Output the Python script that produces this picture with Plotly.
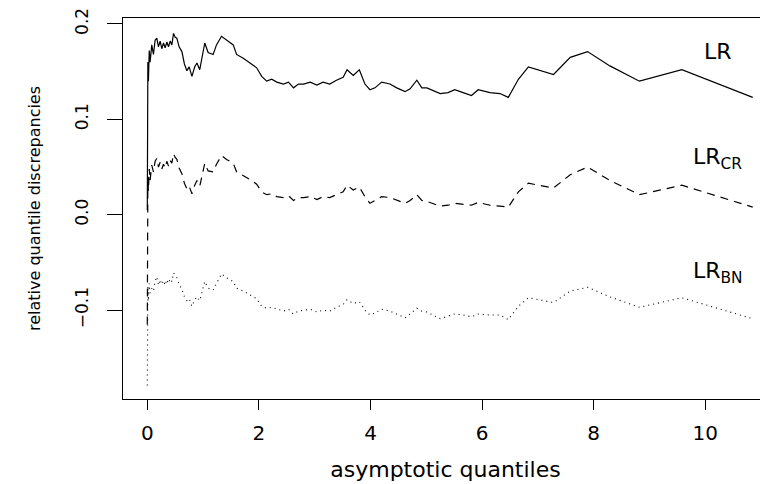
import plotly.graph_objects as go

# asymptotic quantiles (shared x grid)
quantiles = [0.000, 0.005, 0.010, 0.020, 0.035, 0.050, 0.080, 0.110, 0.140, 0.170,
             0.200, 0.230, 0.260, 0.290, 0.320, 0.350, 0.380, 0.410, 0.440, 0.470,
             0.500, 0.530, 0.570, 0.620, 0.665, 0.710, 0.750, 0.800, 0.850, 0.890,
             0.940, 1.030, 1.090, 1.180, 1.240, 1.330, 1.420, 1.540, 1.600, 1.720,
             1.840, 1.960, 2.050, 2.140, 2.230, 2.320, 2.440, 2.530, 2.620, 2.710,
             2.800, 2.920, 3.040, 3.150, 3.270, 3.390, 3.510, 3.580, 3.690, 3.800,
             3.900, 3.990, 4.080, 4.200, 4.350, 4.470, 4.620, 4.710, 4.830, 4.920,
             5.010, 5.250, 5.390, 5.510, 5.660, 5.810, 5.930, 6.140, 6.320, 6.470,
             6.650, 6.830, 7.280, 7.580, 7.890, 8.290, 8.820, 9.580, 10.850]

lr = [0.005, 0.120, 0.160, 0.140, 0.172, 0.160, 0.178, 0.168, 0.183, 0.185,
      0.176, 0.182, 0.174, 0.180, 0.175, 0.181, 0.176, 0.182, 0.178, 0.190,
      0.186, 0.185, 0.176, 0.171, 0.158, 0.151, 0.155, 0.145, 0.155, 0.159,
      0.152, 0.180, 0.170, 0.168, 0.178, 0.187, 0.183, 0.178, 0.168, 0.164,
      0.159, 0.154, 0.145, 0.140, 0.142, 0.139, 0.137, 0.139, 0.133, 0.137,
      0.137, 0.139, 0.136, 0.139, 0.137, 0.141, 0.144, 0.152, 0.146, 0.152,
      0.137, 0.131, 0.133, 0.139, 0.137, 0.133, 0.129, 0.132, 0.141, 0.133,
      0.133, 0.127, 0.128, 0.131, 0.128, 0.125, 0.131, 0.128, 0.127, 0.123,
      0.142, 0.155, 0.147, 0.165, 0.171, 0.156, 0.140, 0.152, 0.123]

lr_cr = [-0.115, -0.020, 0.040, 0.025, 0.048, 0.036, 0.052, 0.045, 0.056, 0.059,
         0.050, 0.055, 0.048, 0.053, 0.049, 0.056, 0.051, 0.057, 0.054, 0.064,
         0.060, 0.058, 0.049, 0.043, 0.033, 0.027, 0.030, 0.022, 0.031, 0.036,
         0.030, 0.054, 0.046, 0.045, 0.053, 0.062, 0.058, 0.054, 0.045, 0.041,
         0.037, 0.032, 0.024, 0.021, 0.022, 0.019, 0.018, 0.020, 0.015, 0.018,
         0.018, 0.019, 0.016, 0.019, 0.018, 0.021, 0.024, 0.031, 0.026, 0.029,
         0.019, 0.012, 0.015, 0.019, 0.018, 0.015, 0.012, 0.015, 0.021, 0.015,
         0.014, 0.009, 0.010, 0.012, 0.011, 0.010, 0.013, 0.010, 0.009, 0.008,
         0.024, 0.033, 0.028, 0.042, 0.050, 0.036, 0.021, 0.031, 0.008]

lr_bn = [-0.179, -0.110, -0.075, -0.090, -0.072, -0.082, -0.077, -0.080, -0.070, -0.065,
         -0.074, -0.068, -0.073, -0.069, -0.074, -0.068, -0.072, -0.067, -0.070, -0.061,
         -0.064, -0.066, -0.073, -0.078, -0.086, -0.090, -0.088, -0.096, -0.089, -0.086,
         -0.090, -0.070, -0.077, -0.079, -0.072, -0.062, -0.066, -0.070, -0.077, -0.080,
         -0.084, -0.088, -0.096, -0.098, -0.097, -0.099, -0.101, -0.099, -0.104, -0.101,
         -0.100, -0.099, -0.102, -0.100, -0.101, -0.097, -0.094, -0.089, -0.093, -0.091,
         -0.100, -0.105, -0.103, -0.099, -0.101, -0.104, -0.108, -0.104, -0.098, -0.101,
         -0.102, -0.109, -0.106, -0.104, -0.105, -0.107, -0.104, -0.105, -0.105, -0.110,
         -0.096, -0.087, -0.092, -0.080, -0.076, -0.086, -0.097, -0.087, -0.109]

x_ticks = [0, 2, 4, 6, 8, 10]
y_ticks = [-0.1, 0.0, 0.1, 0.2]

series_labels = ["LR", "LR<sub>CR</sub>", "LR<sub>BN</sub>"]
label_x = [10.22, 10.22, 10.22]
label_y = [0.171, 0.059, -0.060]

fig = go.Figure()
fig.add_trace(go.Scatter(x=quantiles, y=lr, mode="lines",
                         line=dict(color="black", width=1.2, dash="solid"), name="LR"))
fig.add_trace(go.Scatter(x=quantiles, y=lr_cr, mode="lines",
                         line=dict(color="black", width=1.2, dash="8px,6px"), name="LR_CR"))
fig.add_trace(go.Scatter(x=quantiles, y=lr_bn, mode="lines",
                         line=dict(color="black", width=1.1, dash="1px,4px"), name="LR_BN"))

for t, xx, yy in zip(series_labels, label_x, label_y):
    fig.add_annotation(x=xx, y=yy, text=t, showarrow=False, xanchor="center", yanchor="middle",
                       font=dict(family="DejaVu Sans", size=22, color="black"))

# page body adds an 8px offset, so the figure is sized to fill the rest of the window
fig.update_layout(
    width=760, height=476,
    margin=dict(l=115, r=0, t=5, b=85),
    plot_bgcolor="white", paper_bgcolor="white",
    showlegend=False,
    font=dict(family="DejaVu Sans", color="black"),
)
fig.update_xaxes(
    range=[-0.4355, 11.124], tickvals=x_ticks, ticktext=[str(v) for v in x_ticks],
    ticks="outside", ticklen=10, tickwidth=1, tickcolor="black",
    showline=True, linecolor="black", linewidth=1, mirror=True,
    showgrid=False, zeroline=False,
    tickfont=dict(size=20), ticklabelstandoff=6,
    title=dict(text="asymptotic quantiles", font=dict(size=22), standoff=17),
)
fig.update_yaxes(
    range=[-0.1931, 0.2062], tickvals=y_ticks, tickformat=".1f",
    ticks="outside", ticklen=15, tickwidth=1, tickcolor="black",
    showline=True, linecolor="black", linewidth=1, mirror=False,
    showgrid=False, zeroline=False, tickangle=-90,
    tickfont=dict(size=17), ticklabelstandoff=12, ticklabeloverflow="allow",
    title=dict(text="relative quantile discrepancies", font=dict(size=16), standoff=27),
)

fig.write_html("out.html")
